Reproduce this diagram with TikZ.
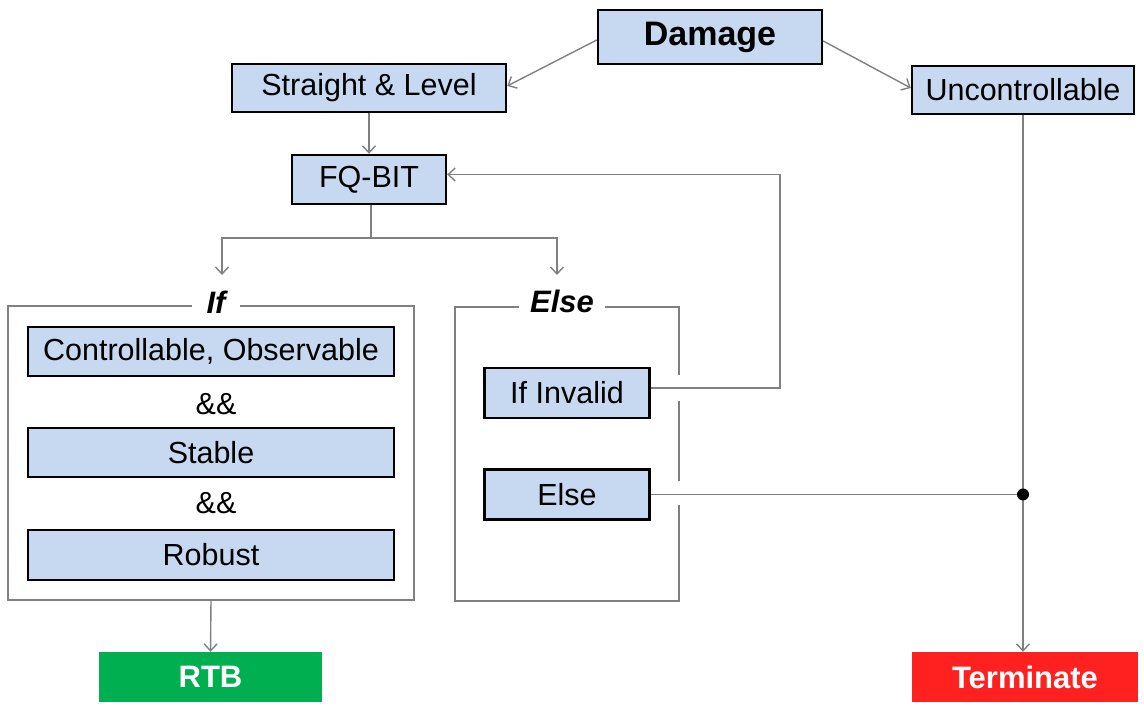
\documentclass[tikz,border=0pt]{standalone}
\usepackage{fontspec}
\setmainfont{Liberation Sans}
\usetikzlibrary{arrows.meta,calc}
\definecolor{boxblue}{RGB}{198,217,241}
\definecolor{okgreen}{RGB}{0,176,80}
\definecolor{stopred}{RGB}{255,32,32}
\definecolor{linegray}{RGB}{128,128,128}
\begin{document}
\begin{tikzpicture}[x=1pt,y=1pt,
  every node/.style={font=\fontsize{30.5}{34}\selectfont},
  bluebox/.style={draw=black, line width=2.4pt, fill=boxblue, rectangle, inner sep=0pt},
  endbox/.style={rectangle, inner sep=0pt, text=white, font=\fontsize{31}{34}\selectfont\bfseries},
  frame/.style={draw=linegray, line width=1.8pt, line join=miter},
  link/.style={draw=linegray, line width=1.4pt},
  arr/.style={link, -{Straight Barb[length=7pt,width=13pt,line width=1.4pt]}},
  tag/.style={font=\fontsize{31}{34}\selectfont\bfseries\itshape, inner sep=0pt}]
\useasboundingbox (0,0) rectangle (1144,708);

% top row
\node[bluebox, minimum width=224pt, minimum height=54pt, font=\fontsize{34}{38}\selectfont\bfseries] (damage) at (710,671) {Damage};
\node[bluebox, minimum width=274pt, minimum height=48pt] (level) at (369,620) {Straight \& Level};
\node[bluebox, minimum width=222pt, minimum height=48pt] (unctrl) at (1023,618) {Uncontrollable};
\node[bluebox, minimum width=154pt, minimum height=49pt] (fqbit) at (369,528.5) {FQ-BIT};

% If branch
\node[minimum width=406pt, minimum height=294pt, inner sep=0pt] (ifframe) at (211,255) {};
\node[bluebox, minimum width=366pt, minimum height=49pt] (ctrl) at (211,356.5) {Controllable, Observable};
\node (amp1) at (216,304) {\&\&};
\node[bluebox, minimum width=366pt, minimum height=49pt] (stable) at (211,255.5) {Stable};
\node (amp2) at (216,205) {\&\&};
\node[bluebox, minimum width=366pt, minimum height=50pt] (robust) at (211,153) {Robust};

% Else branch
\node[minimum width=224pt, minimum height=294pt, inner sep=0pt] (elseframe) at (567,254) {};
\node[bluebox, minimum width=165pt, minimum height=50pt] (inv) at (567,315) {If Invalid};
\node[bluebox, minimum width=165pt, minimum height=50pt] (elsebox) at (567,213.5) {Else};

% outcomes
\node[endbox, fill=okgreen, minimum width=223pt, minimum height=50pt] (rtb) at (210.5,31) {RTB};
\node[endbox, fill=stopred, minimum width=226pt, minimum height=50pt] (term) at (1025,31) {Terminate};

% frames with their titles set into the top edge
\node[tag] (iflabel) at (216,406) {If};
\node[tag] (elselabel) at (562,407) {Else};
\coordinate (ifgapl) at ($(iflabel.west)+(-14,0)$);
\coordinate (ifgapr) at ($(iflabel.east)+(14,0)$);
\coordinate (elsegapl) at ($(elselabel.west)+(-11,0)$);
\coordinate (elsegapr) at ($(elselabel.east)+(11,0)$);
\draw[frame] (ifgapl |- ifframe.north) -- (ifframe.north west)
  -- (ifframe.south west) -- (ifframe.south east) -- (ifframe.north east)
  -- (ifgapr |- ifframe.north);
\coordinate (invx) at ($(elseframe.east |- inv.east)+(0,5)$);
\coordinate (elsex) at (elseframe.east |- elsebox.east);
\coordinate (cut1) at ($(elsex)+(0,-11)$);
\coordinate (cut2) at ($(elsex)+(0,13)$);
\coordinate (cut3) at ($(invx)+(0,-13)$);
\coordinate (cut4) at ($(invx)+(0,13)$);
\draw[frame] (elsegapl |- elseframe.north) -- (elseframe.north west)
  -- (elseframe.south west) -- (elseframe.south east) -- (cut1);
\draw[frame] (cut2) -- (cut3);
\draw[frame] (cut4) -- (elseframe.north east) -- (elsegapr |- elseframe.north);

% connectors
\draw[arr] ($(damage.west)+(0,-3)$) -- ($(level.east)+(0,2)$);
\draw[arr] ($(damage.east)+(0,-4)$) -- ($(unctrl.west)+(0,2)$);
\draw[arr] (level.south) -- (fqbit.north);
\coordinate (split) at ($(fqbit.south)+(2,-33)$);
\coordinate (ifin) at (222,433);
\coordinate (elsein) at (557,433);
\draw[link] (fqbit.south -| split) -- (split);
\draw[arr] (split) -| (ifin);
\draw[arr] (split) -| (elsein);
\coordinate (loop) at (780,0);
\draw[arr] ($(inv.east)+(0,5)$) -| ($(loop |- fqbit.east)+(0,5)$) -- ($(fqbit.east)+(0,5)$);
\coordinate (join) at (unctrl.south |- elsebox.east);
\draw[link] (elsebox.east) -- (join);
\draw[arr] (unctrl.south) -- (unctrl.south |- term.north);
\fill (join) circle (6pt);
\draw[arr] (ifframe.south) -- (rtb.north);
\end{tikzpicture}
\end{document}
